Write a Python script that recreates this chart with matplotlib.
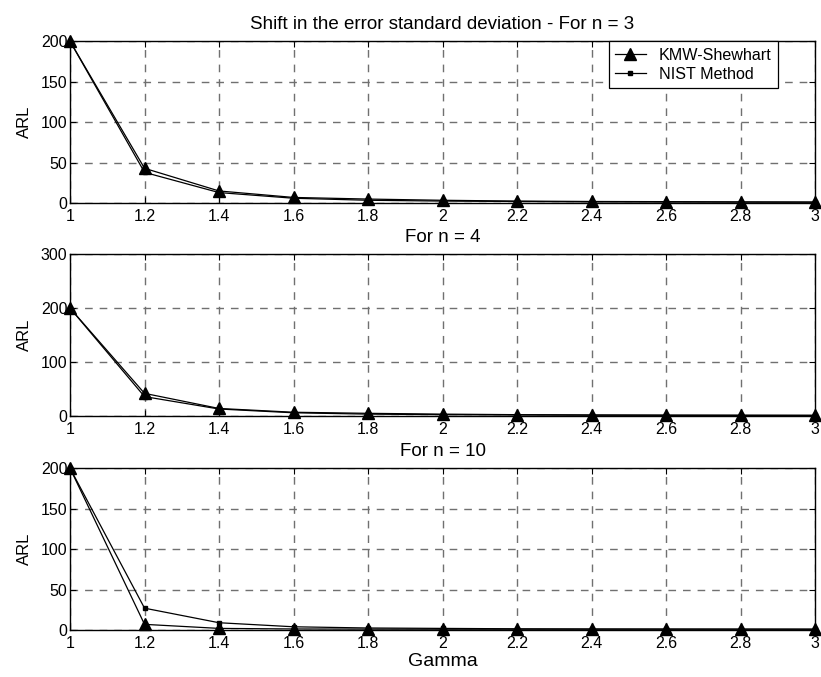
import matplotlib.pyplot as plt

plt.rcParams['font.family'] = ['Liberation Sans', 'DejaVu Sans']

gamma = [1.0, 1.2, 1.4, 1.6, 1.8, 2.0, 2.2, 2.4, 2.6, 2.8, 3.0]

# n = 3
kmw_n3 = [200, 43, 15, 7, 5, 3.5, 2.5, 2.0, 1.8, 1.5, 1.3]
nist_n3 = [200, 38, 13, 6, 3.5, 2.5, 2.0, 1.5, 1.3, 1.2, 1.1]

# n = 4
kmw_n4 = [200, 42, 14, 7, 5, 3.5, 2.5, 2.0, 1.7, 1.5, 1.3]
nist_n4 = [200, 36, 13, 6, 3.5, 2.5, 2.0, 1.5, 1.3, 1.2, 1.1]

# n = 10
kmw_n10 = [200, 7, 2.0, 1.3, 1.1, 1.0, 1.0, 1.0, 1.0, 1.0, 1.0]
nist_n10 = [200, 27, 9, 4, 2.5, 2.0, 1.5, 1.3, 1.2, 1.1, 1.0]

panels = [
    ("Shift in the error standard deviation - For n = 3", kmw_n3, nist_n3, [0, 50, 100, 150, 200], 200),
    ("For n = 4", kmw_n4, nist_n4, [0, 100, 200, 300], 300),
    ("For n = 10", kmw_n10, nist_n10, [0, 50, 100, 150, 200], 200),
]

fig = plt.figure(figsize=(8.21, 6.77), dpi=100)
bottoms = [0.700, 0.3855, 0.0694]
xticklabels = ["1", "1.2", "1.4", "1.6", "1.8", "2", "2.2", "2.4", "2.6", "2.8", "3"]

for (title, kmw, nist, yticks, ymax), b in zip(panels, bottoms):
    ax = fig.add_axes([0.0853, b, 0.9074, 0.239])
    ax.plot(gamma, kmw, color='black', lw=0.9, marker='^', ms=9, label='KMW-Shewhart', zorder=3, clip_on=False)
    ax.plot(gamma, nist, color='black', lw=0.9, marker='s', ms=3.5, label='NIST Method', zorder=3, clip_on=False)
    ax.set_xlim(1, 3)
    ax.set_ylim(0, ymax)
    ax.set_xticks(gamma)
    ax.set_xticklabels(xticklabels)
    ax.set_yticks(yticks)
    # matlab-style dashed grid
    ax.grid(True, color='#707070', linestyle=(0, (5.5, 5)), lw=1.0)
    ax.tick_params(direction='in', length=4, labelsize=11.5, top=True, right=True)
    ax.tick_params(axis='x', pad=4)
    ax.tick_params(axis='y', pad=2)
    for s in ax.spines.values():
        s.set_linewidth(1.0)
    ax.set_ylabel("ARL", fontsize=12, labelpad=6)
    ax.set_title(title, fontsize=13.5, pad=9)
    if b == bottoms[0]:
        leg = ax.legend(loc='upper right', bbox_to_anchor=(0.95, 1.0), fontsize=11.6,
                        fancybox=False, edgecolor='black', framealpha=1,
                        borderaxespad=0, handlelength=1.9, labelspacing=0.25)
        leg.get_frame().set_linewidth(0.9)
    if b == bottoms[-1]:
        ax.set_xlabel("Gamma", fontsize=14, labelpad=2)

fig.savefig("out.png", dpi=100)
